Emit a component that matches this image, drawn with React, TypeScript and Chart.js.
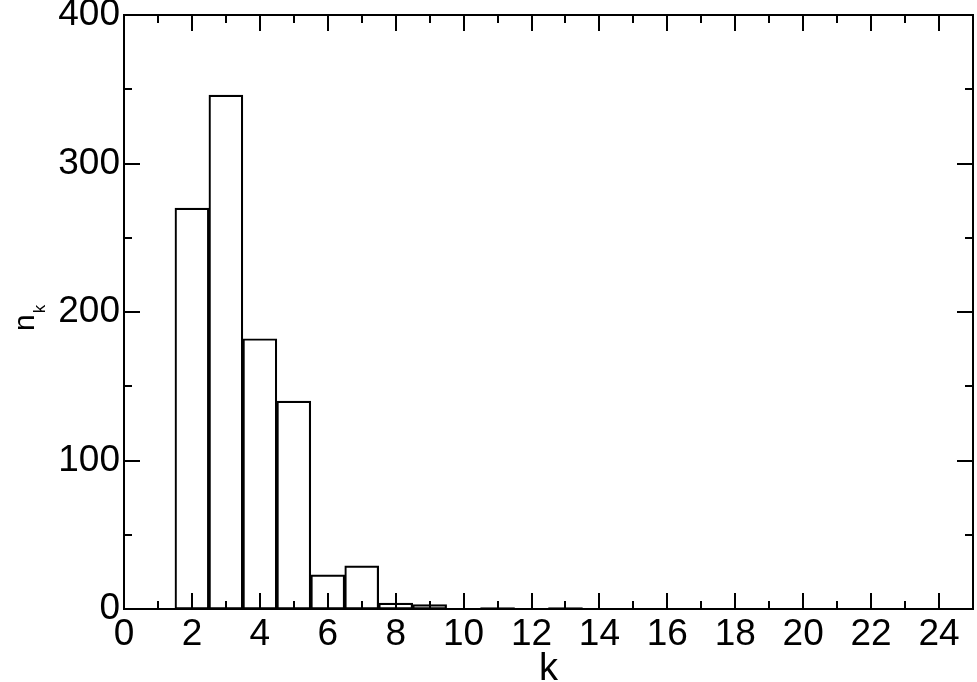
import React, { useEffect, useRef } from "react";
import { Chart, registerables } from "chart.js";

Chart.register(...registerables);

const kValues = [2, 3, 4, 5, 6, 7, 8, 9, 11, 13];
const counts = [270, 346, 182, 140, 23, 29, 4, 3, 1, 1];
const xTickLabels = [0, 2, 4, 6, 8, 10, 12, 14, 16, 18, 20, 22, 24];
const xTickStep = 2;
const yTickStep = 100;
const xMax = 25;
const yMax = 400;
const xTitle = "k";
const yTitleMain = "n";
const yTitleSub = "k";

const FONT = "'Liberation Sans', Arial, Helvetica, sans-serif";

const framePlugin = {
  id: "frameTicks",
  afterDraw(chart: any) {
    const { ctx, chartArea } = chart;
    const { left, right, top, bottom } = chartArea;
    const xs = chart.scales.x;
    const ys = chart.scales.y;
    ctx.save();
    ctx.strokeStyle = "#000";
    ctx.lineWidth = 2;
    ctx.strokeRect(left, top, right - left, bottom - top);
    ctx.beginPath();
    const major = 16;
    const minor = 8;
    for (let v = 0; v <= xMax; v += 1) {
      const px = Math.round(xs.getPixelForValue(v));
      const len = v % xTickStep === 0 ? major : minor;
      ctx.moveTo(px, bottom);
      ctx.lineTo(px, bottom - len);
      ctx.moveTo(px, top);
      ctx.lineTo(px, top + len);
    }
    for (let v = 0; v <= yMax; v += yTickStep / 2) {
      const py = Math.round(ys.getPixelForValue(v));
      const len = v % yTickStep === 0 ? major : minor;
      ctx.moveTo(left, py);
      ctx.lineTo(left + len, py);
      ctx.moveTo(right, py);
      ctx.lineTo(right - len, py);
    }
    ctx.stroke();

    // axis titles
    ctx.fillStyle = "#000";
    ctx.font = `38px ${FONT}`;
    ctx.textAlign = "center";
    ctx.textBaseline = "alphabetic";
    ctx.fillText(xTitle, (left + right) / 2, 680);

    ctx.translate(34, 331);
    ctx.rotate(-Math.PI / 2);
    ctx.textAlign = "left";
    ctx.font = `30px ${FONT}`;
    ctx.fillText(yTitleMain, 0, 0);
    const w = ctx.measureText(yTitleMain).width;
    ctx.font = `17px ${FONT}`;
    ctx.fillText(yTitleSub, w + 1, 11);
    ctx.restore();
  },
};

export default function App() {
  const ref = useRef<HTMLCanvasElement>(null);
  useEffect(() => {
    if (!ref.current) return;
    const chart = new Chart(ref.current, {
      type: "bar",
      data: {
        datasets: [
          {
            data: kValues.map((k, i) => ({ x: k, y: counts[i] })),
            backgroundColor: "rgba(255,255,255,0)",
            borderColor: "#000",
            borderWidth: 1.5,
            borderSkipped: false,
            barPercentage: 1,
            categoryPercentage: 1,
          },
        ],
      },
      options: {
        animation: false,
        responsive: true,
        maintainAspectRatio: false,
        layout: { padding: { left: 0, right: 4, top: 15, bottom: 0 } },
        plugins: { legend: { display: false }, tooltip: { enabled: false } },
        scales: {
          x: {
            type: "linear",
            min: 0,
            max: xMax,
            offset: false,
            grid: { display: false, drawTicks: false },
            border: { display: false },
            ticks: {
              padding: 4,
              color: "#000",
              maxRotation: 0,
              autoSkip: false,
              font: { family: FONT, size: 37 },
            },
            afterBuildTicks(s: any) {
              s.ticks = xTickLabels.map((v) => ({ value: v }));
            },
            afterFit(s: any) {
              s.height = 73;
              s.paddingLeft = 0;
              s.paddingRight = 0;
            },
          },
          y: {
            min: 0,
            max: yMax,
            grid: { display: false, drawTicks: false },
            border: { display: false },
            ticks: {
              stepSize: yTickStep,
              padding: 4,
              color: "#000",
              font: { family: FONT, size: 37 },
            },
            afterFit(s: any) {
              s.width = 124;
              s.paddingTop = 0;
              s.paddingBottom = 0;
            },
          },
        },
      },
      plugins: [framePlugin],
    });
    return () => chart.destroy();
  }, []);
  return (
    <div style={{ position: "fixed", left: 0, top: 0, width: 977, height: 682, background: "#fff" }}>
      <canvas ref={ref} />
    </div>
  );
}
